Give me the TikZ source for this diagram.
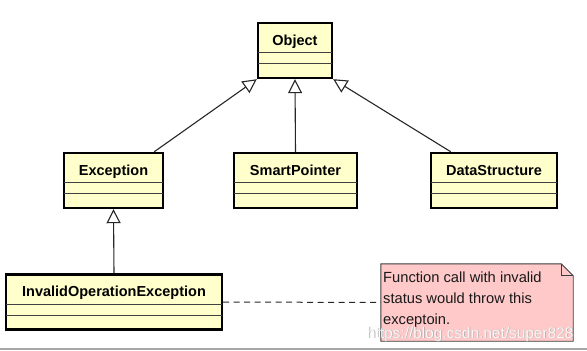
\documentclass[tikz,border=0pt]{standalone}
\usepackage{fontspec}
\setmainfont{Liberation Sans}
\usetikzlibrary{arrows.meta,calc}
\definecolor{classfill}{RGB}{255,255,204}
\definecolor{notefill}{RGB}{255,201,201}
\definecolor{notedraw}{RGB}{60,60,60}
\tikzset{
  umlclass/.style={draw=black, line width=2.4pt, fill=classfill, minimum height=55pt, inner sep=0pt, minimum width=#1},
  classtitle/.style={anchor=base, inner sep=0pt, font=\fontsize{14.5}{17}\selectfont\bfseries},
  divider/.style={line width=1.2pt, draw=black!75},
  inherit/.style={line width=1.1pt, draw=black!85, -{Triangle[length=14pt,width=14pt,fill=white,line width=1.1pt]}},
  notetext/.style={anchor=base west, inner sep=0pt, font=\fontsize{14.7}{20.8}\selectfont, text=black!90},
  noteline/.style={line width=1pt, dash pattern=on 6pt off 4.5pt, draw=black!85},
}
\begin{document}
\begin{tikzpicture}[x=1pt,y=-1pt]
\useasboundingbox (0,0) rectangle (587,351);
% classes
\node[umlclass=74pt] (obj) at (295,50.5) {};
\node[umlclass=99pt] (exc) at (113.5,180.5) {};
\node[umlclass=123pt] (sp) at (295.5,180.5) {};
\node[umlclass=126pt] (ds) at (494,180.5) {};
\node[umlclass=216pt] (inv) at (114,302) {};
% dividers
\foreach \n in {obj,exc,sp,ds,inv}{
  \draw[divider] ($(\n.north west)+(1.2,31)$) -- ($(\n.north east)+(-1.2,31)$);
  \draw[divider] ($(\n.north west)+(1.2,42)$) -- ($(\n.north east)+(-1.2,42)$);
}
% titles
\node[classtitle] (objt) at ($(obj.north)+(0,23.5)$) {Object};
\node[classtitle] (exct) at ($(exc.north)+(0,23.5)$) {Exception};
\node[classtitle] (spt) at ($(sp.north)+(0,23.5)$) {SmartPointer};
\node[classtitle] (dst) at ($(ds.north)+(0,23.5)$) {DataStructure};
\node[classtitle] (invt) at ($(inv.north)+(0,23.5)$) {InvalidOperationException};
% inheritance
\draw[inherit] ($(exc.north east)+(-10,0)$) -- (obj.south west);
\draw[inherit] (sp.north) -- (obj.south);
\draw[inherit] ($(ds.north west)+(21,0)$) -- (obj.south east);
\draw[inherit] (inv.north) -- (exc.south);
% note
\node[minimum width=192pt, minimum height=77pt, inner sep=0pt] (note) at (477,302.5) {};
\draw[fill=notefill, draw=notedraw, line width=0.9pt]
  (note.north west) -- ($(note.north east)+(-12,0)$) -- ($(note.north east)+(0,12)$) -- (note.south east) -- (note.south west) -- cycle;
\draw[draw=notedraw, line width=0.9pt]
  ($(note.north east)+(-12,0)$) -- ($(note.north east)+(-12,12)$) -- ($(note.north east)+(0,12)$);
\node[notetext] (n1) at (383,282) {Function call with invalid};
\node[notetext] (n2) at (383,303) {status would throw this};
\node[notetext] (n3) at (383,324) {exceptoin.};
\draw[noteline] (inv.east) -- (note.west);
% watermark
\node[anchor=base west, inner sep=0pt, font=\fontsize{15.4}{18}\selectfont, text=black!35] (wm0) at (367.6,338.6) {https://blog.csdn.net/super828};
\node[anchor=base west, inner sep=0pt, font=\fontsize{15.4}{18}\selectfont, text=white, opacity=0.9] (wm) at (367,338) {https://blog.csdn.net/super828};
% bottom border
\coordinate (bl) at (0,349);
\coordinate (br) at (587,349);
\draw[line width=1.6pt, draw=black!35] (bl) -- (br);
\end{tikzpicture}
\end{document}
